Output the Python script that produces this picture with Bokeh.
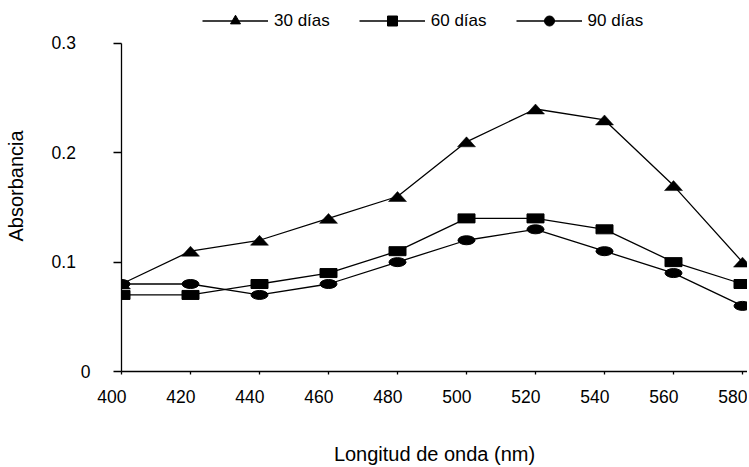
from bokeh.plotting import figure
from bokeh.models import Range1d, FixedTicker, Legend, LegendItem
from bokeh.embed import file_html
from bokeh.resources import INLINE

# ---- data ----
wavelength = [400, 420, 440, 460, 480, 500, 520, 540, 560, 580]
dias_30 = [0.08, 0.11, 0.12, 0.14, 0.16, 0.21, 0.24, 0.23, 0.17, 0.10]
dias_60 = [0.07, 0.07, 0.08, 0.09, 0.11, 0.14, 0.14, 0.13, 0.10, 0.08]
dias_90 = [0.08, 0.08, 0.07, 0.08, 0.10, 0.12, 0.13, 0.11, 0.09, 0.06]
x_ticks = [400, 420, 440, 460, 480, 500, 520, 540, 560, 580]
x_tick_labels = ["400", "420", "440", "460", "480", "500", "520", "540", "560", "580"]
y_ticks = [0, 0.1, 0.2, 0.3]
y_tick_labels = ["0", "0.1", "0.2", "0.3"]
series_labels = ["30 días", "60 días", "90 días"]
x_title = "Longitud de onda (nm)"
y_title = "Absorbancia"

FONT = "Liberation Sans"
NAN = float("nan")
NBSP = "\u00a0"

# ---- layout ----
W, H = 747, 467
BL, BR, BT, BB = 121, 0, 0, 95
AXIS_TOP = 43            # pixel row where y = 0.3 sits
frame_w = W - BL - BR
frame_h = H - BT - BB
px_x = 3.45
px_y = (frame_h - AXIS_TOP) / 0.3
x0, x1 = 400, 400 + frame_w / px_x
y0, y1 = 0, frame_h / px_y

p = figure(width=W, height=H, x_range=Range1d(x0, x1), y_range=Range1d(y0, y1),
           output_backend="svg", toolbar_location=None,
           min_border_left=BL, min_border_right=BR, min_border_top=BT, min_border_bottom=BB)
p.outline_line_color = None
p.grid.visible = False
p.background_fill_color = "white"
p.border_fill_color = "white"

# lines
l30 = p.line(wavelength, dias_30, line_color="black", line_width=1.3)
l60 = p.line(wavelength, dias_60, line_color="black", line_width=1.3)
l90 = p.line(wavelength, dias_90, line_color="black", line_width=1.3)

# flattened triangle markers (18 x 10 px)
hw = 9 / px_x
hh = 5 / px_y
tri_xs = [[x - hw, x, x + hw] for x in wavelength]
tri_ys = [[y - hh, y + hh, y - hh] for y in dias_30]
p.patches(tri_xs, tri_ys, fill_color="black", line_color="black", line_width=0.5)

# flattened squares and circles
p.rect(x=wavelength, y=dias_60, width=17, height=9, width_units="screen",
       height_units="screen", fill_color="black", line_color="black")
p.ellipse(x=wavelength, y=dias_90, width=17, height=9, width_units="screen",
          height_units="screen", fill_color="black", line_color="black")

# legend marker proxies (not drawn in the plot)
s30 = p.scatter(x=[NAN], y=[NAN], marker="triangle", fill_color="black", line_color="black")
s60 = p.scatter(x=[NAN], y=[NAN], marker="square", fill_color="black", line_color="black")
s90 = p.scatter(x=[NAN], y=[NAN], marker="circle", fill_color="black", line_color="black")

legend = Legend(items=[
    LegendItem(label=series_labels[0], renderers=[l30, s30]),
    LegendItem(label=series_labels[1], renderers=[l60, s60]),
    LegendItem(label=series_labels[2], renderers=[l90, s90]),
], orientation="horizontal", location=(81, frame_h - 34),
    glyph_width=66, glyph_height=25, label_standoff=6, spacing=29,
    padding=0, margin=0, border_line_color=None, background_fill_alpha=0,
    label_text_font=FONT, label_text_font_size="17px", label_text_color="black")
p.add_layout(legend, "center")

# axes
p.xaxis.ticker = FixedTicker(ticks=x_ticks)
p.yaxis.ticker = FixedTicker(ticks=y_ticks)
p.yaxis.bounds = (y_ticks[0], y_ticks[-1])
# labels in the reference sit a little left of their ticks
p.xaxis.major_label_overrides = {t: (s if t == x_ticks[-1] else s + NBSP * 4)
                                 for t, s in zip(x_ticks, x_tick_labels)}
p.yaxis.major_label_overrides = {t: (s if t == 0 else s + NBSP * 3)
                                 for t, s in zip(y_ticks, y_tick_labels)}
for ax in (p.xaxis[0], p.yaxis[0]):
    ax.axis_line_color = "black"
    ax.axis_line_width = 1.3
    ax.major_tick_line_color = "black"
    ax.major_tick_line_width = 1.3
    ax.minor_tick_line_color = None
    ax.major_tick_in = 0
    ax.major_label_text_font = FONT
    ax.major_label_text_font_size = "17.5px"
    ax.major_label_text_color = "black"
    ax.axis_label_text_font = FONT
    ax.axis_label_text_font_size = "20px"
    ax.axis_label_text_font_style = "normal"
    ax.axis_label_text_color = "black"

p.xaxis.major_tick_out = 3
p.xaxis.major_label_standoff = 12
p.xaxis.axis_label = x_title
p.xaxis.axis_label_standoff = 33

p.yaxis.major_tick_out = 8
p.yaxis.major_label_standoff = 23
p.yaxis.axis_label = y_title
p.yaxis.axis_label_standoff = 22

with open("out.html", "w") as f:
    f.write(file_html(p, INLINE))
